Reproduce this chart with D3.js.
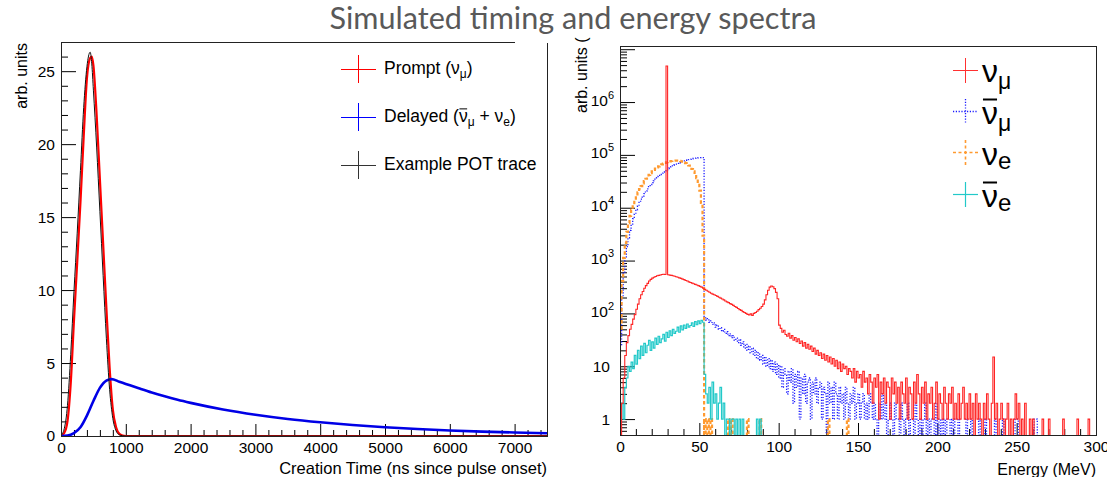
<!DOCTYPE html>
<html><head><meta charset="utf-8">
<script src="https://cdn.jsdelivr.net/npm/d3@7"></script>
<style>body{margin:0;background:#fff}svg{display:block}</style>
</head><body>
<svg id="c" width="1107" height="477"></svg>
<script>
// ---------------- DATA ----------------
const titleText = "Simulated timing and energy spectra";

// Left panel: creation time (ns)
const promptTimes = [0,50,100,150,200,250,300,350,400,450,475,500,550,600,650,700,750,800,850,900,950,1000,1100,7500];
const promptVals  = [0,0.2,1.0,3.6,7.9,11.9,16.0,20.5,24.5,25.9,26.0,25.4,22.0,17.6,13.2,8.8,4.7,1.8,0.6,0.15,0.03,0,0,0];
const potVals     = [0.05,0.5,2.1,5.6,9.9,13.9,18.2,22.5,25.3,26.3,25.5,23.7,19.8,15.4,11.0,6.7,3.2,1.2,0.35,0.08,0.02,0,0,0];
const delayedTimes = [0,100,200,300,400,500,600,700,780,900,1000,1200,1400,1600,1800,2000,2500,3000,3500,4000,4500,5000,5500,6000,6500,7000,7500];
const delayedVals  = [0,0.03,0.2,0.6,1.4,2.4,3.3,3.8,3.9,3.72,3.57,3.27,2.98,2.72,2.48,2.27,1.82,1.46,1.17,0.94,0.75,0.60,0.48,0.38,0.30,0.24,0.19];
const timeMajorTicks = [0,1000,2000,3000,4000,5000,6000,7000];
const leftYTicks = [0,5,10,15,20,25];

// Right panel: energy spectra, 1 MeV bins starting at 0
const numu = [
0,2,6,16,28,38,50,62,78,95,
120,150,190,225,260,300,335,370,410,440,
465,485,500,515,525,535,545,550,545,4800000,
540,530,525,515,505,495,485,470,460,445,
435,420,410,395,385,375,365,355,345,335,
325,315,300,285,275,262,252,240,232,225,
218,210,202,195,188,180,172,165,160,153,
148,142,135,130,124,118,114,108,104,100,
96,94,98,92,100,104,110,118,125,135,
150,180,225,275,315,330,320,295,250,190,
60,52,44,48,40,37,42,34,38,31,
35,29,33,27,30,24,28,22,26,21,
24,19,22,17,20,16,18,14,17,13,
16,12,15,11,14,10,13,9,12,8,
11,9,10,7,9,8,6,9,5,8,
6,7,4,8,5,6,3,7,5,2,
6,4,7,1,5,3,6,2,5,4,
1,6,3,5,2,4,1,5,3,2,
6,1,4,3,1,5,2,7,3,1,
4,2,5,1,3,2,4,1,2,5,
1,3,2,1,4,2,1,3,2,4,
1,2,1,3,1,2,4,1,2,1,
3,1,2,0,3,1,2,1,0,2,
1,3,1,0,2,15,1,2,0,1,
2,1,0,1,2,0,1,0,1,3,
1,2,0,1,0,2,0,0,1,0,
1,0,0,0,0,0,1,0,0,0,
1,0,0,0,0,0,0,0,0,1,
0,0,0,0,0,0,0,0,1,0,
0,0,0,0,0,1,0,0,0,0];
const numubar = [
24,210,580,1120,1830,2700,3720,4880,6180,7600,
9160,10800,12600,14500,16400,18500,20600,22800,25100,27400,
29800,32300,34700,37200,39700,42200,44700,47300,49800,52300,
54800,57200,59600,62000,64300,66600,68800,70900,73000,74900,
76800,78500,80200,81700,83100,84400,85500,86500,87300,88000,
88500,88800,89000,82,75,80,68,72,62,66,
55,60,50,54,46,50,42,45,38,41,
35,38,31,34,28,32,25,29,22,26,
20,24,18,22,16,20,14,18,13,16,
11,15,10,14,9,13,8,12,7,11,
6,10,4,9,7,3,8,5,9,2,
7,4,8,1,6,3,7,2,5,6,
1,5,3,6,2,4,5,1,4,3,
0,5,2,4,1,5,3,1,4,2,
3,1,4,2,1,3,2,4,1,2,
3,1,2,3,1,2,1,3,2,1,
2,1,0,2,1,3,1,2,0,1,
2,1,0,2,1,1,0,2,1,0,
1,2,0,1,1,0,2,1,0,1,
0,1,2,0,1,0,1,1,0,2,
0,1,0,1,0,1,0,0,1,0,
1,0,0,1,0,0,0,0,1,0,
0,1,0,0,0,0,1,0,0,0,
1,0,0,0,0,0,1,0,0,0,
0,1,0,0,0,0,0,0,0,1,
1,0,0,0,0,0,0,0,0,0,
0,1,1];
const nue = [
47,410,1120,2160,3500,5120,7000,9100,11450,13970,
16690,19540,22520,25620,28800,32060,35350,38650,42000,45300,
48570,51750,54870,57880,60760,63510,66070,68440,70610,72540,
74200,75590,76680,77470,77910,77990,77670,76960,75810,74230,
72170,69610,66560,62940,58790,54070,48720,42780,36160,28920,
21000,12320,2970];
const nueTailBins = [53,55,57,68,70,80,88,131,143];
const nueTailVals = [1,1,1,1,1,1,1,1,1];
const nuebar = [
1,2,1,4,6,10,8,12,9,16,
11,20,14,24,16,27,18,25,31,20,
29,22,34,26,37,28,33,40,30,44,
35,47,38,50,42,46,55,44,58,49,
60,52,63,55,59,66,57,70,61,72,
64,74,68,7,3,2,4,1,5,2,
3,1,2,4,1,2,0,1,1,0,
1,1,0,1,0,1,0,1,0,0,
0,0,0,0,0,0,1,0,1];
const energyMajorTicks = [0,50,100,150,200,250,300];
const logExponents = [0,1,2,3,4,5,6];

// ---------------- DRAWING ----------------
const FONT = "'Liberation Sans', Arial, Helvetica, sans-serif";
const svg = d3.select('#c');
svg.append('rect').attr('width',1107).attr('height',477).attr('fill','#fff');
const defs = svg.append('defs');

function rich(parent, x, y, parts, anchor) {
  const g = parent.append('g').attr('font-family', FONT);
  let cx = 0;
  parts.forEach(p => {
    const dy = p.dy || 0;
    const t = g.append('text').attr('x', cx).attr('y', dy).attr('font-size', p.size)
      .attr('fill','#000').style('white-space','pre').text(p.t);
    const w = t.node().getComputedTextLength();
    if (p.over) {
      const oy = dy - p.size * 0.75;
      g.append('line').attr('x1', cx + p.size*0.03).attr('x2', cx + w - p.size*0.03)
        .attr('y1', oy).attr('y2', oy).attr('stroke', '#000').attr('stroke-width', p.ow || 1.2);
    }
    cx += w;
  });
  const dx = anchor === 'end' ? -cx : 0;
  g.attr('transform', `translate(${x + dx},${y})`);
  return g;
}

// ===== LEFT PANEL =====
const L = {x0:61, x1:547, y0:42, y1:436};
const xL = d3.scaleLinear().domain([0,7500]).range([L.x0, L.x1]);
const yL = d3.scaleLinear().domain([0,27]).range([L.y1, L.y0]);
defs.append('clipPath').attr('id','clipL').append('rect')
  .attr('x', L.x0).attr('y', L.y0).attr('width', L.x1-L.x0).attr('height', L.y1-L.y0+1);

svg.append('g').attr('transform',`translate(${L.x0},0)`)
  .call(d3.axisLeft(yL).tickValues(d3.range(0,27.01,1).filter(v=>v%5!==0)).tickSize(-7).tickFormat(''))
  .call(g=>g.select('.domain').remove());
svg.append('g').attr('transform',`translate(0,${L.y1})`)
  .call(d3.axisBottom(xL).tickValues(d3.range(0,7501,200).filter(v=>v%1000!==0)).tickSize(-6).tickFormat(''))
  .call(g=>g.select('.domain').remove());
svg.append('g').attr('transform',`translate(${L.x0},0)`)
  .call(d3.axisLeft(yL).tickValues(leftYTicks).tickSize(-15).tickPadding(6).tickFormat(d3.format('d')))
  .call(g=>g.select('.domain').remove())
  .call(g=>g.selectAll('text').attr('font-size',15.5).attr('font-family',FONT).attr('fill','#000'));
svg.append('g').attr('transform',`translate(0,${L.y1})`)
  .call(d3.axisBottom(xL).tickValues(timeMajorTicks).tickSize(-12).tickPadding(6).tickFormat(d3.format('d')))
  .call(g=>g.select('.domain').remove())
  .call(g=>g.selectAll('text').attr('font-size',15.5).attr('font-family',FONT).attr('fill','#000'));

const lineL = (ts) => d3.line().x((d,i)=>xL(ts[i])).y(d=>yL(d)).curve(d3.curveMonotoneX);
const curvesL = svg.append('g').attr('clip-path','url(#clipL)').attr('fill','none');
curvesL.append('path').attr('d', lineL(promptTimes)(promptVals)).attr('stroke','#ff0000').attr('stroke-width',2.2);
curvesL.append('path').attr('d', lineL(delayedTimes)(delayedVals)).attr('stroke','#0000e6').attr('stroke-width',2.6);
curvesL.append('path').attr('d', lineL(promptTimes)(potVals)).attr('stroke','#111').attr('stroke-width',1);

svg.append('rect').attr('x',L.x0+0.5).attr('y',L.y0+0.5).attr('width',L.x1-L.x0).attr('height',L.y1-L.y0)
  .attr('fill','none').attr('stroke','#222').attr('stroke-width',1);

svg.append('text').attr('transform',`translate(27,43) rotate(-90)`).attr('text-anchor','end')
  .attr('font-family',FONT).attr('font-size',16).text('arb. units');
svg.append('text').attr('x',L.x1).attr('y',473.5).attr('text-anchor','end')
  .attr('font-family',FONT).attr('font-size',16.5).text('Creation Time (ns since pulse onset)');

// left legend
const legL = [
  {c:'#ff0000', y:69, parts:[{t:'Prompt (\u03bd',size:17.5},{t:'\u03bc',size:12,dy:4},{t:')',size:17.5}]},
  {c:'#0000ff', y:117, parts:[{t:'Delayed (',size:17.5},{t:'\u03bd',size:17.5,over:true,ow:1},{t:'\u03bc',size:12,dy:4},{t:' + \u03bd',size:17.5},{t:'e',size:12,dy:4},{t:')',size:17.5}]},
  {c:'#333', y:165, parts:[{t:'Example POT trace',size:17.5}]}
];
legL.forEach(e=>{
  svg.append('line').attr('x1',341).attr('x2',376).attr('y1',e.y+0.5).attr('y2',e.y+0.5).attr('stroke',e.c).attr('stroke-width',1);
  svg.append('line').attr('x1',358.5).attr('x2',358.5).attr('y1',e.y-14).attr('y2',e.y+14).attr('stroke',e.c).attr('stroke-width',1);
  rich(svg, 384, e.y+5, e.parts);
});

// ===== RIGHT PANEL =====
const R = {x0:620, x1:1096, y0:46, y1:435};
const xR = d3.scaleLinear().domain([0,300]).range([R.x0, R.x1]);
const yR = d3.scaleLog().domain([0.5, 1.15e7]).range([R.y1, R.y0]);
defs.append('clipPath').attr('id','clipR').append('rect')
  .attr('x', R.x0).attr('y', R.y0).attr('width', R.x1-R.x0).attr('height', R.y1-R.y0+1);

const minorLog = [];
for (let d=-1; d<=7; d++) for (let m=2; m<=9; m++) { const v=m*Math.pow(10,d); if (v>=0.5 && v<=1.15e7) minorLog.push(v); }
svg.append('g').attr('transform',`translate(${R.x0},0)`)
  .call(d3.axisLeft(yR).tickValues(minorLog).tickSize(-7).tickFormat(''))
  .call(g=>g.select('.domain').remove());
svg.append('g').attr('transform',`translate(${R.x0},0)`)
  .call(d3.axisLeft(yR).tickValues([1,10,100,1e3,1e4,1e5,1e6,1e7]).tickSize(-15).tickFormat(''))
  .call(g=>g.select('.domain').remove());
svg.append('g').attr('transform',`translate(0,${R.y1})`)
  .call(d3.axisBottom(xR).tickValues(d3.range(0,301,10).filter(v=>v%50!==0)).tickSize(-6).tickFormat(''))
  .call(g=>g.select('.domain').remove());
svg.append('g').attr('transform',`translate(0,${R.y1})`)
  .call(d3.axisBottom(xR).tickValues(energyMajorTicks).tickSize(-12).tickPadding(6).tickFormat(d3.format('d')))
  .call(g=>g.select('.domain').remove())
  .call(g=>g.selectAll('text').attr('font-size',15.5).attr('font-family',FONT).attr('fill','#000'));

const ylab = svg.append('g').attr('font-family',FONT).attr('fill','#000');
logExponents.forEach(k=>{
  const yy = yR(Math.pow(10,k));
  if (k===0) ylab.append('text').attr('x',610).attr('y',yy+5.5).attr('text-anchor','end').attr('font-size',15.5).text('1');
  else if (k===1) ylab.append('text').attr('x',610).attr('y',yy+5.5).attr('text-anchor','end').attr('font-size',15.5).text('10');
  else {
    const t = ylab.append('text').attr('x',614).attr('y',yy+3.5).attr('text-anchor','end').attr('font-size',15.5);
    t.append('tspan').text('10');
    t.append('tspan').attr('dy',-7).attr('font-size',11).text(String(k));
  }
});

function stepPoints(vals, start) {
  const pts = [[start,0]];
  vals.forEach((v,i)=>pts.push([start+i, v]));
  pts.push([start+vals.length, 0]);
  return pts;
}
const stepLine = d3.line().x(d=>xR(d[0])).y(d=>d[1]>0 ? yR(d[1]) : R.y1+1).curve(d3.curveStepAfter);

const curvesR = svg.append('g').attr('clip-path','url(#clipR)').attr('fill','none');
curvesR.append('path').attr('d', stepLine(stepPoints(numubar,0)))
  .attr('stroke','#1a1aff').attr('stroke-width',1.3).attr('stroke-dasharray','1.2,1.6');
curvesR.append('path').attr('d', stepLine(stepPoints(nue,0)))
  .attr('stroke','#ff9a30').attr('stroke-width',2.2).attr('stroke-dasharray','3.5,2.5');
nueTailBins.forEach((b,i)=>{
  curvesR.append('path').attr('d', stepLine(stepPoints([nueTailVals[i]], b)))
    .attr('stroke','#ff9a30').attr('stroke-width',2.2).attr('stroke-dasharray','3.5,2.5');
});
curvesR.append('path').attr('d', stepLine(stepPoints(nuebar,0)))
  .attr('stroke','#22c9c9').attr('stroke-width',1.2);
curvesR.append('path').attr('d', stepLine(stepPoints(numu,0)))
  .attr('stroke','#ff2424').attr('stroke-width',1.1);

svg.append('rect').attr('x',R.x0+0.5).attr('y',R.y0+0.5).attr('width',R.x1-R.x0).attr('height',R.y1-R.y0)
  .attr('fill','none').attr('stroke','#222').attr('stroke-width',1);

svg.append('text').attr('transform',`translate(587,113) rotate(-90)`).attr('text-anchor','start')
  .attr('font-family',FONT).attr('font-size',16).text('arb. units (');
svg.append('text').attr('x',R.x1).attr('y',475).attr('text-anchor','end')
  .attr('font-family',FONT).attr('font-size',16).text('Energy (MeV)');

// right legend
const legR = [
  {c:'#ff3030', dash:null, w:1, y:70, base:82, parts:[{t:'\u03bd',size:32},{t:'\u03bc',size:23,dy:7}]},
  {c:'#1a1aff', dash:'1.2,1.6', w:1.3, y:111, base:123.5, parts:[{t:'\u03bd',size:32,over:true,ow:2},{t:'\u03bc',size:23,dy:7}]},
  {c:'#ff9a30', dash:'3,2.5', w:1.6, y:152, base:165, parts:[{t:'\u03bd',size:32},{t:'e',size:24,dy:4}]},
  {c:'#22c9c9', dash:null, w:1.2, y:194, base:206.5, parts:[{t:'\u03bd',size:32,over:true,ow:2},{t:'e',size:24,dy:4}]}
];
legR.forEach(e=>{
  const h = svg.append('line').attr('x1',953).attr('x2',978).attr('y1',e.y+0.5).attr('y2',e.y+0.5).attr('stroke',e.c).attr('stroke-width',e.w);
  const v = svg.append('line').attr('x1',965.5).attr('x2',965.5).attr('y1',e.y-12).attr('y2',e.y+13).attr('stroke',e.c).attr('stroke-width',e.w);
  if (e.dash) { h.attr('stroke-dasharray',e.dash); v.attr('stroke-dasharray',e.dash); }
  rich(svg, 982, e.base, e.parts);
});

// ===== TITLE =====
svg.append('rect').attr('x',515).attr('y',0).attr('width',50).attr('height',43).attr('fill','#fff');
svg.append('rect').attr('x',565).attr('y',0).attr('width',340).attr('height',36).attr('fill','#fff');
svg.append('text').attr('x',573).attr('y',29).attr('text-anchor','middle')
  .attr('font-family',"Lato, 'Open Sans', sans-serif").attr('font-size',31).attr('fill','#595959')
  .attr('textLength',487).attr('lengthAdjust','spacingAndGlyphs').text(titleText);
</script>
</body></html>
